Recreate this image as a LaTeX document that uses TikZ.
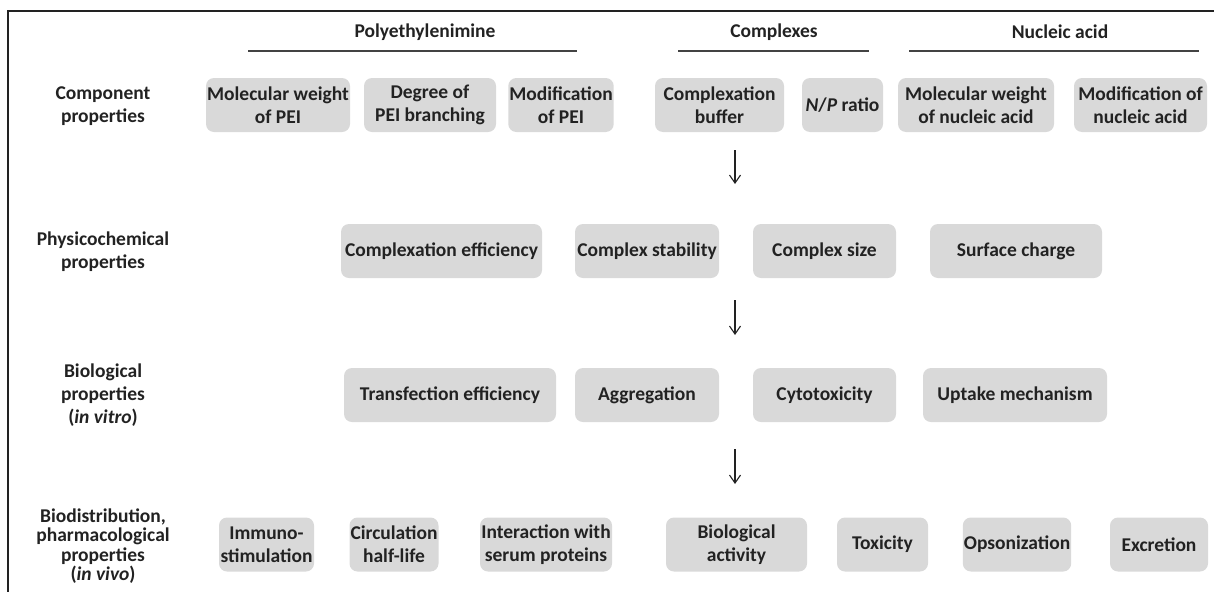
\documentclass[tikz,border=0pt]{standalone}
\usepackage{fontspec}
\setmainfont{Carlito}
\usetikzlibrary{arrows.meta}

\definecolor{boxgray}{RGB}{217,217,217}
\definecolor{inkgray}{RGB}{34,34,34}

\begin{document}
\begin{tikzpicture}[
    x=1pt, y=-1pt,
    >={Straight Barb[length=8pt,width=11pt]},
    font=\fontsize{19.5}{23}\selectfont\bfseries, text=inkgray,
    prop/.style={
      fill=boxgray, rounded corners=8pt,
      minimum height=54pt, inner sep=1pt, align=center},
    rowlabel/.style={align=center},
    header/.style={anchor=center},
    rule/.style={draw=inkgray!85, line width=1.3pt},
    flow/.style={->, draw=inkgray, line width=1.1pt},
]
\useasboundingbox (0,0) rectangle (1214,592);

% ---- frame (cut on the right and at the bottom) ----
\draw[inkgray, line width=1.6pt] (1214,11) -- (8,11) -- (8,592);

% ---- group headers ----
\node[header] (hpei) at (425,32)  {Polyethylenimine};
\node[header] (hcx)  at (774,32)  {Complexes};
\node[header] (hna)  at (1060,32) {Nucleic acid};
\draw[rule] (248,51) -- (577,51);
\draw[rule] (678,51) -- (869,51);
\draw[rule] (909,51) -- (1199,51);

% ---- row labels ----
\node[rowlabel] (lcomp) at (103,106) {Component\\properties};
\node[rowlabel] (lphys) at (103,252) {Physicochemical\\properties};
\node[rowlabel] (lbio)  at (103,395) {Biological\\properties\\(\textit{in vitro})};
\node[rowlabel, font=\fontsize{19.5}{19.5}\selectfont\bfseries]
                (lviv)  at (103,546) {Biodistribution,\\pharmacological\\properties\\(\textit{in vivo})};

% ---- row 1: component properties ----
\node[prop, minimum width=144pt] (mwpei)  at (278,105)    {Molecular weight\\of PEI};
\node[prop, minimum width=132pt] (branch) at (430,105)    {Degree of\\PEI branching};
\node[prop, minimum width=100pt] (modpei) at (561,105)    {Modification\\of PEI};
\node[prop, minimum width=129pt] (buffer) at (719.5,105)  {Complexation\\buffer};
\node[prop, minimum width=81pt]  (npr)    at (842.5,105)  {\textit{N}/\textit{P} ratio};
\node[prop, minimum width=156pt] (mwna)   at (976,105)    {Molecular weight\\of nucleic acid};
\node[prop, minimum width=133pt] (modna)  at (1140.5,105) {Modification of\\nucleic acid};

% ---- row 2: physicochemical ----
\node[prop, minimum width=201pt] (cxeff)  at (441.5,251) {Complexation efficiency};
\node[prop, minimum width=144pt] (cxstab) at (647,251)   {Complex stability};
\node[prop, minimum width=143pt] (cxsize) at (824.5,251) {Complex size};
\node[prop, minimum width=172pt] (surf)   at (1016,251)  {Surface charge};

% ---- row 3: in vitro ----
\node[prop, minimum width=212pt] (transf) at (450,395)   {Transfection efficiency};
\node[prop, minimum width=144pt] (aggr)   at (647,395)   {Aggregation};
\node[prop, minimum width=143pt] (cytox)  at (824.5,395) {Cytotoxicity};
\node[prop, minimum width=184pt] (uptake) at (1015,395)  {Uptake mechanism};

% ---- row 4: in vivo ----
\node[prop, minimum width=95pt]  (immuno) at (266.5,544.5) {Immuno-\\stimulation};
\node[prop, minimum width=82pt]  (hlife)  at (394,544.5)   {Circulation\\half-life};
\node[prop, minimum width=132pt] (serum)  at (546,544.5)   {Interaction with\\serum proteins};
\node[prop, minimum width=141pt] (bioact) at (736.5,544.5) {Biological\\activity};
\node[prop, minimum width=91pt]  (toxic)  at (882.5,544.5) {Toxicity};
\node[prop, minimum width=108pt] (opson)  at (1017,544.5)  {Opsonization};
\node[prop, minimum width=98pt]  (excr)   at (1159,544.5)  {Excretion};

% ---- flow arrows between levels ----
\coordinate (a1s) at (735,150); \coordinate (a1e) at (735,184);
\coordinate (a2s) at (735,300); \coordinate (a2e) at (735,335);
\coordinate (a3s) at (735,449); \coordinate (a3e) at (735,484);
\draw[flow] (a1s) -- (a1e);
\draw[flow] (a2s) -- (a2e);
\draw[flow] (a3s) -- (a3e);

\end{tikzpicture}
\end{document}
